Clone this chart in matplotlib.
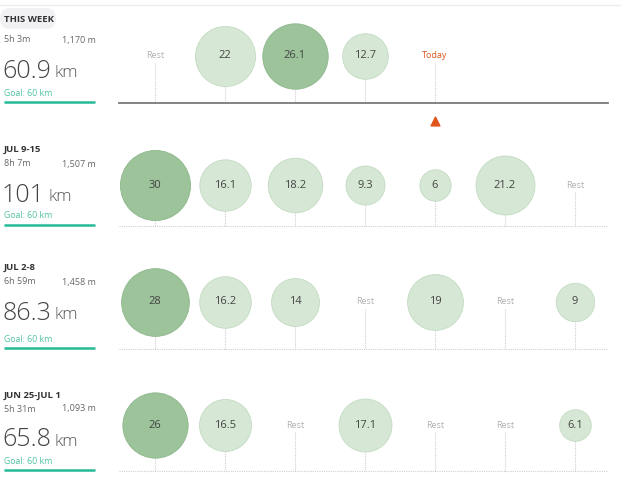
import matplotlib.pyplot as plt
import numpy as np

plt.rcParams['font.family'] = ['Open Sans', 'DejaVu Sans']

# one entry per week, Mon..Sun; None = Rest, 'Today' = today, '' = future
week_titles = ['THIS WEEK', 'JUL 9-15', 'JUL 2-8', 'JUN 25-JUL 1']
week_times = ['5h 3m', '8h 7m', '6h 59m', '5h 31m']
week_climb = ['1,170 m', '1,507 m', '1,458 m', '1,093 m']
week_totals = ['60.9', '101', '86.3', '65.8']
week_goal = 'Goal: 60 km'
day_values = [
    [None, 22, 26.1, 12.7, 'Today', '', ''],
    [30, 16.1, 18.2, 9.3, 6, 21.2, None],
    [28, 16.2, 14, None, 19, None, 9],
    [26, 16.5, None, 17.1, None, None, 6.1],
]

# layout (pixels)
row_center = [56, 185, 302, 425]
row_base = [103, 226, 349, 471]
row_title = [19, 150, 268, 395]
x0, dx = 155, 70
r_per_sqrt = 6.4  # circle radius px = 6.4 * sqrt(km)

fig = plt.figure(figsize=(6.4, 4.8), dpi=100)
ax = fig.add_axes([0, 0, 1, 1])
ax.set_xlim(0, 640)
ax.set_ylim(480, 0)
ax.axis('off')

# faint top line
ax.plot([0, 620], [5, 5], color='#ececec', lw=1)

dark_fc, dark_ec = '#9dc39b', '#8db78b'
light_fc, light_ec = '#d6e8d5', '#c2dbc1'
teal = '#27b994'
orange = '#e0541c'

for w in range(4):
    cy = row_center[w]
    by = row_base[w]
    ty = row_title[w]
    vals = day_values[w]
    nums = [v for v in vals if isinstance(v, (int, float))]
    vmax = max(nums)

    # left panel
    if w == 0:
        pill = plt.matplotlib.patches.FancyBboxPatch((0, 8), 56, 21,
                                                     boxstyle='round,pad=0,rounding_size=10',
                                                     fc='#f1f1f4', ec='none')
        ax.add_patch(pill)
        ty_times = 40
    else:
        ty_times = ty + 14
    ax.text(4, ty, week_titles[w], fontsize=6.8, fontweight='bold', color='#333', va='center')
    ax.text(4, ty_times, week_times[w], fontsize=6.5, color='#666', va='center')
    ax.text(96, ty_times, week_climb[w], fontsize=6.5, color='#666', va='center', ha='right')
    big_y = ty_times + 31
    t = ax.text(2, big_y, week_totals[w], fontsize=18, color='#444', va='center', fontweight='light')
    fig.canvas.draw()
    bb = t.get_window_extent().transformed(ax.transData.inverted())
    ax.text(bb.x1 + 4, big_y + 2, 'km', fontsize=12.5, color='#555', va='center', fontweight='light')
    ax.text(4, by - 10, week_goal, fontsize=6.3, color='#52c2a4', va='center')
    ax.plot([4, 95], [by - 1, by - 1], color=teal, lw=1.8, solid_capstyle='butt')

    # baseline
    if w == 0:
        ax.plot([119, 608], [by, by], color='#7a7a7a', lw=1.3)
    else:
        ax.plot([119, 608], [by, by], color='#cfcfcf', lw=0.8, ls=(0, (1, 1)))

    # days
    for d, v in enumerate(vals):
        x = x0 + d * dx
        if isinstance(v, (int, float)):
            r = r_per_sqrt * np.sqrt(v)
            big = v == vmax
            ax.scatter([x], [cy], s=(2 * r * 0.72) ** 2, color=dark_fc if big else light_fc,
                       edgecolors=dark_ec if big else light_ec, linewidths=0.6, zorder=3)
            ax.text(x, cy, f'{v:g}', fontsize=8, color='#444', ha='center', va='center', zorder=4)
            ax.plot([x, x], [cy + r, by], color='#d0d0d0', lw=0.8, ls=(0, (1, 1)), zorder=1)
        elif v is None:
            ax.text(x, cy, 'Rest', fontsize=6.5, color='#b0b0b0', ha='center', va='center')
            ax.plot([x, x], [cy + 7, by], color='#d0d0d0', lw=0.8, ls=(0, (1, 1)), zorder=1)
        elif v == 'Today':
            ax.text(x, cy, 'Today', fontsize=6.5, color=orange, ha='center', va='center')
            ax.plot([x, x], [cy + 7, by], color='#d0d0d0', lw=0.8, ls=(0, (1, 1)), zorder=1)
            ax.scatter([x], [121], marker='^', s=40, color=orange, zorder=3)

fig.savefig('out.png', dpi=100)
